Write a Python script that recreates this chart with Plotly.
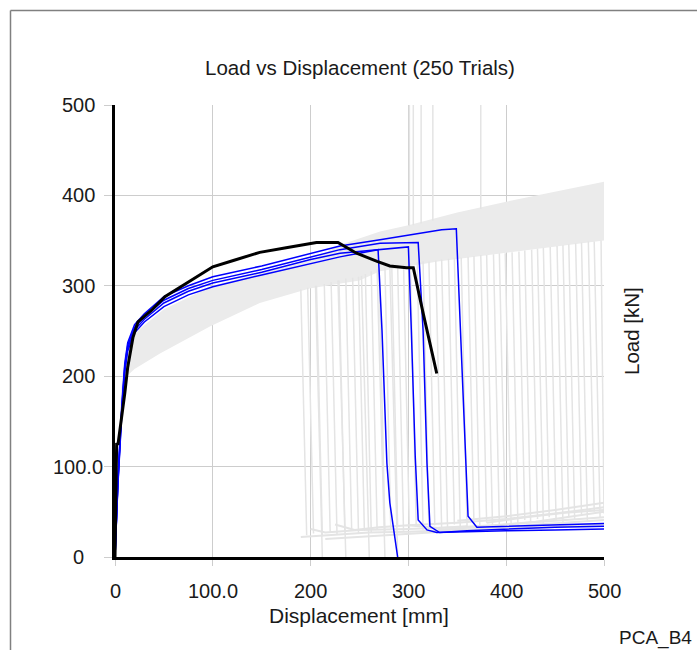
import plotly.graph_objects as go

# ---------------- data ----------------
title_text = "Load vs Displacement (250 Trials)"
x_title = "Displacement [mm]"
y_title = "Load [kN]"
corner_text = "PCA_B4"

tick_vals = [0, 100, 200, 300, 400, 500]
tick_text = ["0", "100.0", "200", "300", "400", "500"]

# envelope of the 250 grey trial curves (pre-failure part)
band_upper_x = [0, 3, 6, 10, 15, 25, 50, 100, 150, 200, 230, 271, 300, 350, 400, 450, 500]
band_upper_y = [0, 90, 180, 225, 240, 252, 274, 300, 314, 328, 345, 360, 367, 381, 393, 404, 415]
band_lower_x = [0, 4, 8, 12, 20, 46, 97, 148, 199, 250, 271, 330, 400, 450, 500]
band_lower_y = [0, 90, 170, 200, 208, 225, 255, 281, 297, 306, 316, 327, 336, 343, 350]

# grey failure drops of the trials
drop_x_top = [190, 197, 206, 214, 221, 229, 236, 243, 249, 256, 262, 270, 276, 283, 289, 295,
              302, 309, 315, 321, 328, 334, 341, 347, 354, 361, 367, 374, 380, 387, 393, 399,
              406, 413, 419, 426, 432, 438, 445, 452, 458, 464, 471, 477, 484, 490, 497]
drop_y_top = [296, 298, 300, 302, 304, 306, 308, 309, 310, 313, 316, 319, 321, 322, 323, 324,
              325, 326, 327, 327, 328, 329, 330, 331, 331, 332, 333, 334, 334, 335, 336, 336,
              337, 338, 339, 340, 341, 342, 343, 344, 345, 346, 347, 348, 349, 349, 350]
drop_x_bot = [196, 203, 212, 220, 227, 235, 242, 249, 255, 262, 268, 276, 282, 289, 295, 301,
              308, 315, 321, 327, 334, 340, 347, 353, 360, 367, 373, 380, 386, 393, 399, 405,
              412, 419, 425, 432, 438, 444, 451, 458, 464, 470, 477, 483, 490, 496, 500]
drop_y_bot = [24, 26, 23, 28, 25, 27, 30, 26, 29, 27, 31, 28, 30, 33, 29, 31,
              34, 30, 32, 35, 31, 33, 36, 34, 32, 37, 35, 38, 33, 36, 40, 37,
              35, 41, 38, 42, 36, 44, 40, 38, 45, 42, 47, 40, 50, 44, 48]

# grey trials that fail down to zero load
zero_drop_x_top = [205, 228, 252, 268, 281]
zero_drop_y_top = [300, 306, 311, 318, 322]
zero_drop_x_bot = [212, 236, 260, 276, 289]

# grey vertical spikes reaching the top of the chart
spike_x = [301, 305, 313, 325, 374]
spike_y_from = [366, 367, 369, 372, 385]

# grey residual (post-failure) curves
res_curves = [
    ([190, 230, 260, 300, 350, 400, 450, 500], [22, 25, 27, 28, 30, 32, 34, 36]),
    ([200, 215, 250, 300, 350, 400, 450, 500], [31, 27, 30, 31, 33, 36, 40, 44]),
    ([215, 260, 300, 340, 380, 420, 460, 500], [20, 23, 26, 28, 31, 35, 38, 41]),
    ([225, 245, 270, 300, 330, 360], [36, 30, 33, 35, 32, 34]),
    ([300, 350, 400, 450, 500], [35, 38, 42, 48, 55]),
    ([350, 400, 450, 500], [40, 45, 52, 60]),
    ([330, 380, 430, 470, 500], [30, 34, 39, 45, 50]),
    ([380, 420, 460, 500], [38, 44, 49, 52]),
]

# highlighted blue trials
blue_curves = [
    ([0, 3, 7, 10, 13, 20, 30, 50, 75, 100, 150, 200, 230, 269, 273, 278, 281, 289],
     [0, 80, 160, 205, 228, 248, 260, 277, 290, 299, 312, 325, 332, 340, 251, 104, 60, 0]),
    ([0, 3, 7, 10, 13, 20, 30, 50, 75, 100, 150, 200, 230, 300, 303, 307, 310, 319, 329,
      360, 400, 450, 500],
     [0, 82, 163, 208, 231, 251, 263, 281, 294, 303, 315, 329, 336, 343, 251, 111, 41, 30, 27,
      28, 29, 30, 31]),
    ([0, 3, 7, 10, 13, 20, 30, 50, 75, 100, 150, 200, 230, 271, 310, 315, 319, 322, 332,
      360, 400, 450, 500],
     [0, 84, 166, 211, 234, 254, 266, 284, 297, 306, 318, 332, 340, 347, 348, 251, 104, 34, 27,
      29, 31, 33, 34]),
    ([0, 3, 7, 10, 13, 20, 30, 50, 75, 100, 150, 200, 230, 271, 334, 349, 353, 356, 361, 370,
      400, 450, 500],
     [0, 86, 169, 214, 237, 257, 269, 288, 300, 310, 322, 336, 344, 351, 362, 363, 251, 177, 45,
      33, 34, 36, 37]),
]

# black (reference / measured) curve
black_x = [0, 1.7, 3, 6.8, 10, 13, 18.4, 23.5, 37.5, 51, 73, 100, 121, 148, 175, 206, 228,
           247, 268, 281, 298, 305, 315, 329]
black_y = [0, 126, 124, 154, 181, 210, 243, 260, 273, 288, 303, 321, 328, 337, 342, 348, 348,
           336, 327, 322, 320, 320, 270, 203]

# ---------------- figure ----------------
W, H = 697, 650
L, R, T, B = 115, 93, 105, 93
PW, PH = W - L - R, H - T - B


def px_to_paper_x(px):
    return (px - L) / PW


def px_to_paper_y(py):
    return (H - B - py) / PH


FONT = "Liberation Sans, Arial, sans-serif"
GREY_FILL = "#ebebeb"
GREY_LINE = "#e4e4e4"
GRID = "#cdcdcd"
TXT = "#1a1a1a"

fig = go.Figure()

# band
fig.add_trace(go.Scatter(
    x=band_upper_x + band_lower_x[::-1],
    y=band_upper_y + band_lower_y[::-1],
    fill="toself", fillcolor=GREY_FILL, mode="lines",
    line=dict(width=0, color=GREY_FILL), hoverinfo="skip", showlegend=False))

# drops
dx, dy = [], []
for xt, yt, xb, yb in zip(drop_x_top, drop_y_top, drop_x_bot, drop_y_bot):
    dx += [xt, xb, None]
    dy += [yt, yb, None]
for xt, yt, xb in zip(zero_drop_x_top, zero_drop_y_top, zero_drop_x_bot):
    dx += [xt, xb, None]
    dy += [yt, 0, None]
for xs, ys in zip(spike_x, spike_y_from):
    dx += [xs, xs, None]
    dy += [ys, 500, None]
fig.add_trace(go.Scatter(x=dx, y=dy, mode="lines", line=dict(color=GREY_LINE, width=1.5),
                         hoverinfo="skip", showlegend=False))

for xs, ys in res_curves:
    fig.add_trace(go.Scatter(x=xs, y=ys, mode="lines", line=dict(color=GREY_LINE, width=2),
                             hoverinfo="skip", showlegend=False))

for xs, ys in blue_curves:
    fig.add_trace(go.Scatter(x=xs, y=ys, mode="lines", line=dict(color="#0000ff", width=1.5),
                             showlegend=False))

fig.add_trace(go.Scatter(x=black_x, y=black_y, mode="lines", line=dict(color="black", width=3),
                         showlegend=False))

annotations = []
# x tick labels
for v, t in zip(tick_vals, tick_text):
    annotations.append(dict(x=v, xref="x", y=px_to_paper_y(591), yref="paper", text=t,
                            showarrow=False, xanchor="center", yanchor="middle",
                            font=dict(family=FONT, size=20, color=TXT)))
# y tick labels
for v, t in zip(tick_vals, tick_text):
    annotations.append(dict(x=px_to_paper_x(78), xref="paper", y=v, yref="y", text=t,
                            showarrow=False, xanchor="center", yanchor="middle",
                            font=dict(family=FONT, size=20, color=TXT)))
annotations += [
    dict(x=px_to_paper_x(359.5), xref="paper", y=px_to_paper_y(67), yref="paper", text=title_text,
         showarrow=False, xanchor="center", yanchor="middle",
         font=dict(family=FONT, size=20.5, color=TXT)),
    dict(x=px_to_paper_x(358.5), xref="paper", y=px_to_paper_y(615), yref="paper", text=x_title,
         showarrow=False, xanchor="center", yanchor="middle",
         font=dict(family=FONT, size=21, color=TXT)),
    dict(x=px_to_paper_x(631), xref="paper", y=px_to_paper_y(331), yref="paper", text=y_title,
         showarrow=False, xanchor="center", yanchor="middle", textangle=-90,
         font=dict(family=FONT, size=20.5, color=TXT)),
    dict(x=px_to_paper_x(617), xref="paper", y=px_to_paper_y(638), yref="paper", text=corner_text,
         showarrow=False, xanchor="left", yanchor="middle",
         font=dict(family=FONT, size=19, color=TXT)),
]

shapes = [
    dict(type="line", xref="paper", yref="paper",
         x0=px_to_paper_x(10.5), x1=px_to_paper_x(10.5),
         y0=px_to_paper_y(10.5), y1=px_to_paper_y(700),
         line=dict(color="#808080", width=1.5)),
    dict(type="line", xref="paper", yref="paper",
         x0=px_to_paper_x(10.5), x1=px_to_paper_x(760),
         y0=px_to_paper_y(10.5), y1=px_to_paper_y(10.5),
         line=dict(color="#808080", width=1.5)),
]

fig.update_layout(
    width=W, height=H,
    margin=dict(l=L, r=R, t=T, b=B, pad=0),
    paper_bgcolor="white", plot_bgcolor="white",
    showlegend=False,
    annotations=annotations,
    shapes=shapes,
    xaxis=dict(range=[0, 500], tickvals=tick_vals, showticklabels=False,
               ticks="outside", ticklen=6, tickcolor=GRID, tickwidth=1,
               showgrid=True, gridcolor=GRID, gridwidth=1,
               showline=True, linecolor="black", linewidth=3, zeroline=False,
               fixedrange=True),
    yaxis=dict(range=[0, 500], tickvals=tick_vals, showticklabels=False,
               ticks="outside", ticklen=8, tickcolor=GRID, tickwidth=1,
               showgrid=True, gridcolor=GRID, gridwidth=1,
               showline=True, linecolor="black", linewidth=3, zeroline=False,
               fixedrange=True),
)

fig.write_html("out.html")
